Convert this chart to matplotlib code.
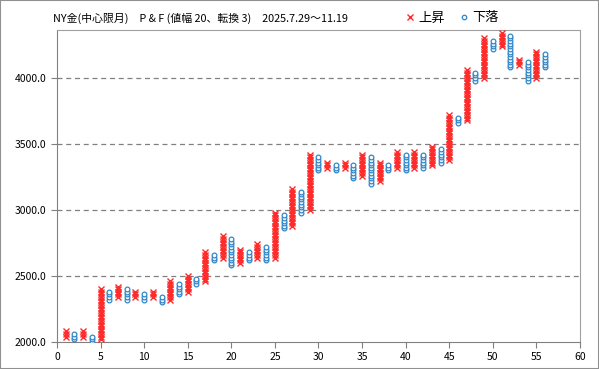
import matplotlib
matplotlib.use("Agg")
import matplotlib.pyplot as plt
import numpy as np
from matplotlib.patches import Rectangle
from matplotlib.lines import Line2D

plt.rcParams['font.family'] = ['Noto Sans CJK JP', 'DejaVu Sans']

box = 20
col_type = ['X','O','X','O','X','O','X','O','X','O',
            'X','O','X','O','X','O','X','O','X','O',
            'X','O','X','O','X','O','X','O','X','O',
            'X','O','X','O','X','O','X','O','X','O',
            'X','O','X','O','X','O','X','O','X','O',
            'X','O','X','O','X','O']
col_low = [2040,2020,2040,2000,2020,2320,2340,2320,2340,2320,
           2340,2300,2320,2360,2380,2440,2460,2620,2640,2580,
           2600,2620,2640,2620,2640,2860,2880,2980,3000,3300,
           3320,3300,3320,3240,3260,3200,3220,3300,3320,3300,
           3320,3320,3340,3360,3380,3660,3680,3980,4000,4220,
           4240,4080,4100,3980,4000,4080]
col_high = [2080,2060,2080,2040,2400,2380,2420,2400,2380,2360,
            2380,2340,2460,2440,2500,2480,2680,2660,2800,2780,
            2700,2680,2740,2720,2980,2960,3160,3140,3420,3400,
            3360,3340,3360,3340,3420,3400,3360,3340,3440,3420,
            3440,3420,3480,3460,3720,3700,4060,4040,4300,4280,
            4340,4320,4140,4120,4200,4180]

fig = plt.figure(figsize=(5.99, 3.69), dpi=100)
ax = fig.add_axes([57/599, 27/369, (580-57)/599, (342-30)/369])

red = '#ff2a2a'
blue = '#2f86c9'
for i, (t, lo, hi) in enumerate(zip(col_type, col_low, col_high)):
    xpos = i + 1
    vals = np.arange(lo, hi + 1, box)
    xs = np.full(len(vals), xpos)
    if t == 'X':
        ax.plot(xs, vals, linestyle='none', marker='x', color=red,
                markersize=3.8, markeredgewidth=1.0, zorder=3)
    else:
        ax.plot(xs, vals, linestyle='none', marker='o', markerfacecolor='white',
                markeredgecolor=blue, markersize=3.4, markeredgewidth=0.9, zorder=3)

ax.set_xlim(0, 60)
ax.set_ylim(2000, 4364)
ax.set_xticks(np.arange(0, 61, 5))
ax.set_yticks(np.arange(2000, 4001, 500))
ax.set_yticklabels([f"{v:.1f}" for v in np.arange(2000, 4001, 500)])
for v in np.arange(2500, 4001, 500):
    ax.axhline(v, color='#808080', linestyle=(0, (4, 3)), linewidth=0.9, zorder=1)
for s in ax.spines.values():
    s.set_color('#a0a0a0')
ax.spines['left'].set_color('#808080')
ax.spines['bottom'].set_color('#808080')
ax.tick_params(axis='both', labelsize=7.5, colors='#808080', labelcolor='black', length=4)

fig.text(53/599, 1 - 18/369, 'NY金(中心限月)　P & F (値幅 20、転換 3)　2025.7.29～11.19',
         fontsize=7.8, ha='left', va='center')

handles = [Line2D([], [], linestyle='none', marker='x', color=red, markersize=4.5, markeredgewidth=1.0),
           Line2D([], [], linestyle='none', marker='o', markerfacecolor='white',
                  markeredgecolor=blue, markersize=3.2, markeredgewidth=0.9)]
fig.legend(handles, ['上昇', '下落'], ncol=2, frameon=False, loc='center left',
           bbox_to_anchor=(405/599, 1 - 18/369), bbox_transform=fig.transFigure,
           fontsize=9.5, handletextpad=0.2, columnspacing=1.1, handlelength=0.8,
           borderpad=0, borderaxespad=0)

fig.patches.append(Rectangle((0, 0), 1, 1, transform=fig.transFigure, fill=False,
                             edgecolor='#909090', linewidth=1.5))
fig.savefig('out.png', dpi=100)
